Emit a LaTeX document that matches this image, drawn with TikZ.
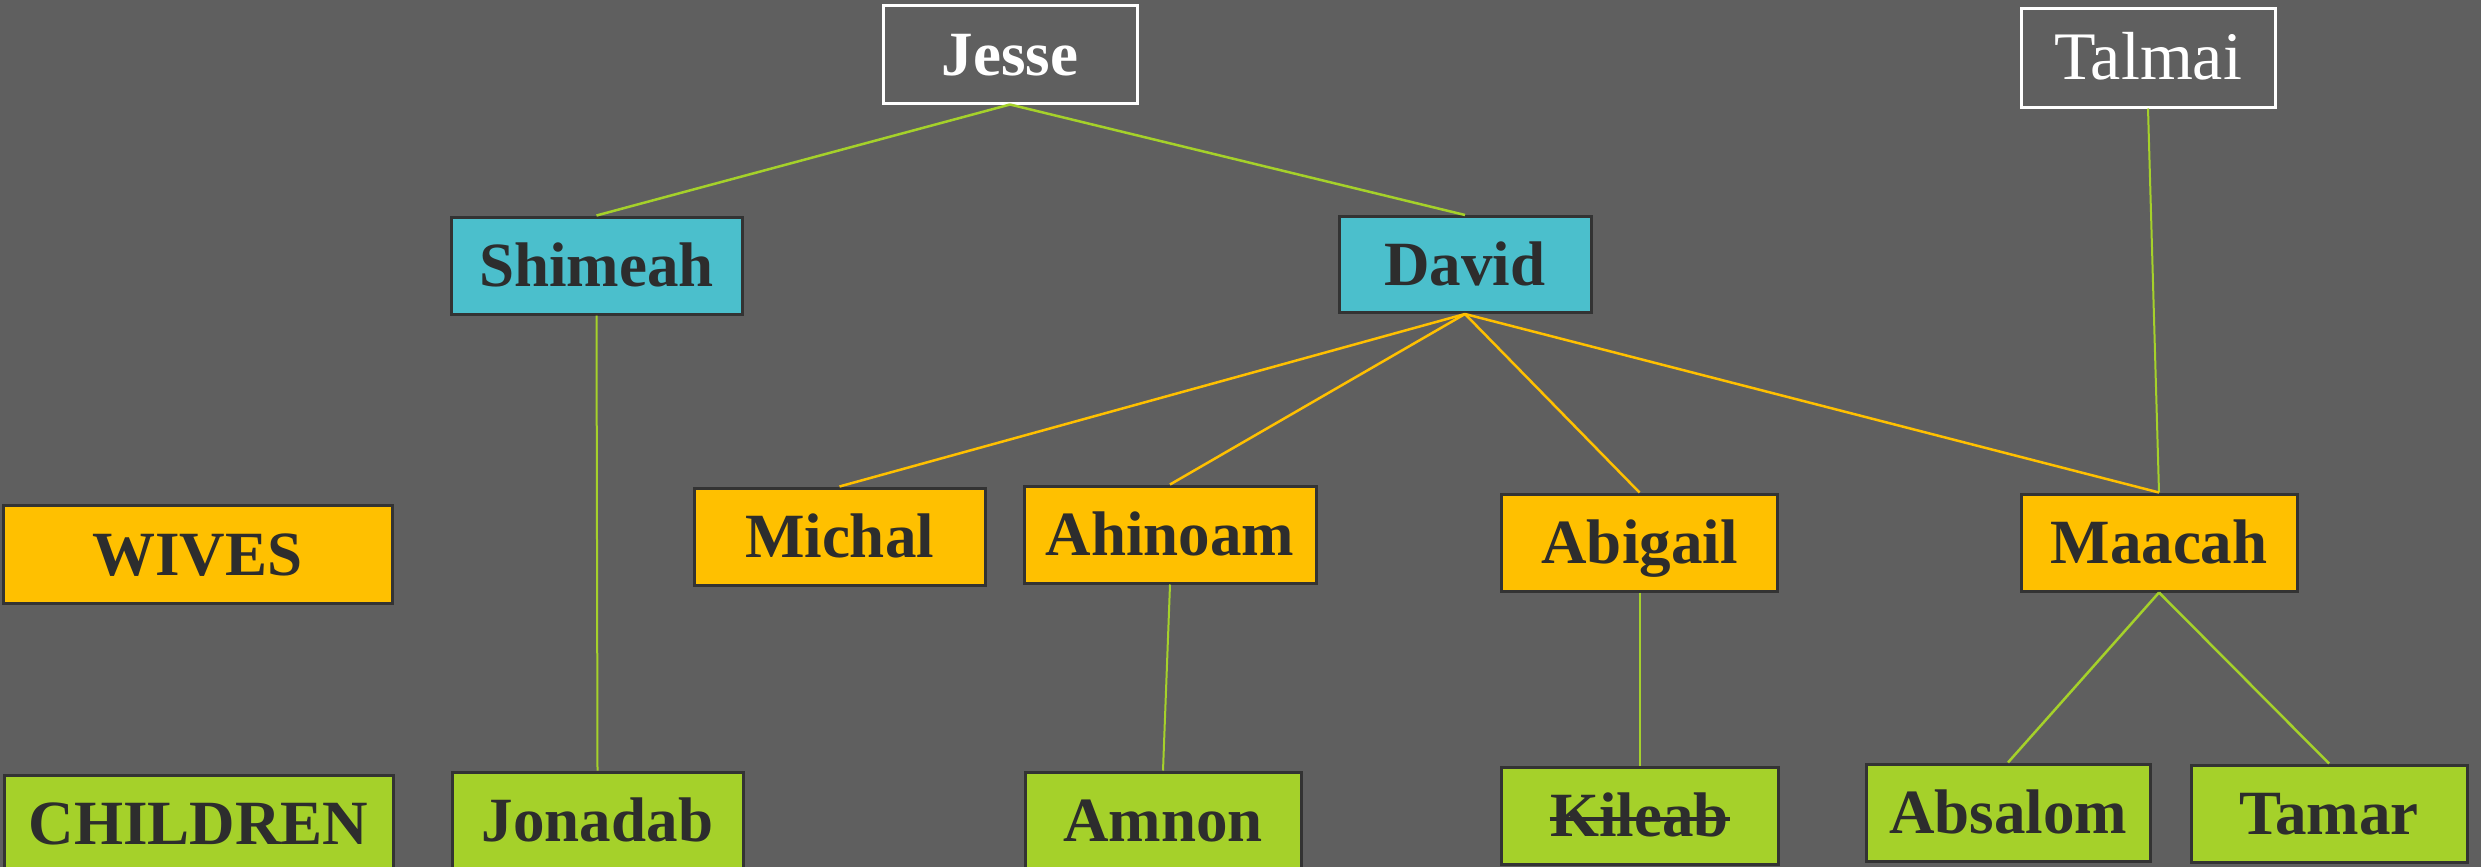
\documentclass[tikz,border=0pt]{standalone}
\usepackage{fontspec}
\setmainfont{Liberation Serif}
\definecolor{bg}{HTML}{5F5F5F}
\definecolor{cyanbox}{HTML}{4BBFCC}
\definecolor{orangebox}{HTML}{FFC000}
\definecolor{greenbox}{HTML}{A5D12A}
\definecolor{darktext}{HTML}{2D2D2D}
\definecolor{darkborder}{HTML}{333333}
\tikzset{
  box/.style={draw=darkborder, line width=3pt, inner sep=0pt, text=darktext,
    font=\fontsize{63}{70}\selectfont\bfseries, text height=42pt, text depth=0pt},
  topbox/.style={draw=white, line width=3pt, inner sep=0pt, text=white,
    font=\fontsize{63}{70}\selectfont\bfseries, text height=42pt, text depth=0pt},
  cbox/.style={box, fill=cyanbox},
  obox/.style={box, fill=orangebox},
  gbox/.style={box, fill=greenbox},
  sz/.style 2 args={minimum width=#1pt, minimum height=#2pt},
  gline/.style={draw=greenbox, line width=2.5pt},
  oline/.style={draw=orangebox, line width=2.5pt},
  strike/.style={draw=darktext, line width=3.5pt},
}
\begin{document}
\begin{tikzpicture}[x=1pt,y=-1pt]
\useasboundingbox (0,0) rectangle (2481,867);
\clip (0,0) rectangle (2481,867);
\fill[bg] (0,0) rectangle (2481,867);

\node[topbox, sz={254}{97}] (jesse) at (1010,54.5) {Jesse};
\node[topbox, sz={254}{98}, font=\fontsize{68}{74}\selectfont] (talmai) at (2148,58) {Talmai};
\node[cbox, sz={291}{97}] (shimeah) at (596.5,265.5) {Shimeah};
\node[cbox, sz={252}{96}] (david) at (1465,264.5) {David};

\node[obox, sz={389}{98}] (wives) at (197.5,554) {WIVES};
\node[obox, sz={291}{97}] (michal) at (839.5,536.5) {Michal};
\node[obox, sz={292}{97}] (ahinoam) at (1170,534.5) {Ahinoam};
\node[obox, sz={276}{97}] (abigail) at (1639.5,542.5) {Abigail};
\node[obox, sz={276}{97}] (maacah) at (2159,542.5) {Maacah};

\node[gbox, sz={389}{97}] (children) at (198.5,823.5) {CHILDREN};
\node[gbox, sz={291}{97}] (jonadab) at (597.5,820.5) {Jonadab};
\node[gbox, sz={276}{97}] (amnon) at (1163,820.5) {Amnon};
\node[gbox, sz={277}{97}] (kileab) at (1639.5,815.5) {Kileab};
\node[gbox, sz={284}{97}] (absalom) at (2008,812.5) {Absalom};
\node[gbox, sz={276}{97}] (tamar) at (2329,813.5) {Tamar};
\draw[strike] ([xshift=-90pt,yshift=-3.5pt]kileab.center) -- ([xshift=90pt,yshift=-3.5pt]kileab.center);

\draw[gline] (jesse.south) -- (shimeah.north);
\draw[gline] (jesse.south) -- (david.north);
\draw[gline, line width=2pt] (shimeah.south) -- (jonadab.north);
\draw[gline, line width=2pt] (talmai.south) -- (maacah.north);
\draw[oline] (david.south) -- (michal.north);
\draw[oline] (david.south) -- (ahinoam.north);
\draw[oline] (david.south) -- (abigail.north);
\draw[oline] (david.south) -- (maacah.north);
\draw[gline, line width=2pt] (ahinoam.south) -- (amnon.north);
\draw[gline, line width=2pt] (abigail.south) -- (kileab.north);
\draw[gline] (maacah.south) -- (absalom.north);
\draw[gline] (maacah.south) -- (tamar.north);
\end{tikzpicture}
\end{document}
